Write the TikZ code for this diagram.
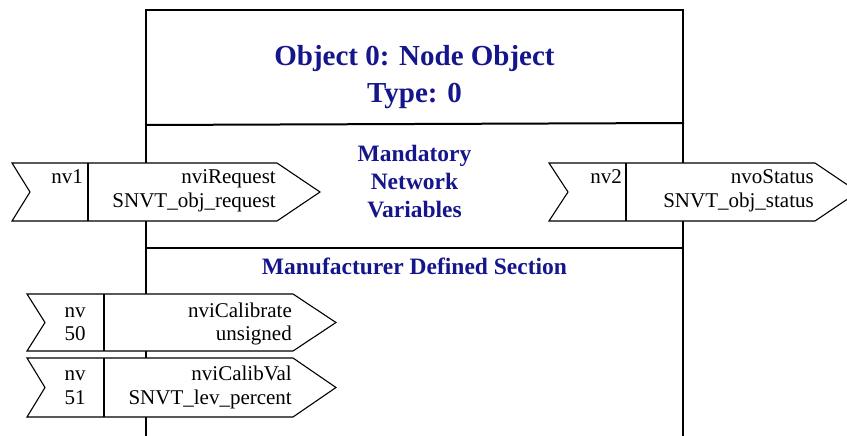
\documentclass[tikz,border=0pt]{standalone}
\usepackage{fontspec}
\setmainfont{Liberation Serif}
\definecolor{navy}{RGB}{22,22,140}
\newcommand\portshape[7]{%
  \draw[portline] (#1,#6) -- (#4,#6) -- (#5,{(#6+#7)/2}) -- (#4,#7) -- (#1,#7) -- (#2,{(#6+#7)/2}) -- cycle;
  \draw[portline] (#3,#6) -- (#3,#7);}
\begin{document}
\begin{tikzpicture}[x=1pt,y=-1pt,
  boxline/.style={line width=2pt,line cap=rect},
  portline/.style={line width=1.1pt,fill=white,line join=miter},
  lbl/.style={font=\fontsize{21}{24}\selectfont,inner sep=0pt,anchor=base east},
  lblc/.style={font=\fontsize{21}{24}\selectfont,inner sep=0pt,anchor=base},
  title/.style={font=\bfseries\fontsize{29}{37}\selectfont,text=navy,align=center,inner sep=0pt},
  sect/.style={font=\bfseries\fontsize{23.5}{28}\selectfont,text=navy,align=center,inner sep=0pt}]
\useasboundingbox (0,0) rectangle (847,436);
\clip (0,0) rectangle (847,436);
% main box
\draw[boxline] (146,445) -- (146,10) -- (683,10) -- (683,445);
\draw[boxline] (146,125) -- (683,123);
\draw[boxline] (146,248) -- (683,248);
% texts in box
\node[title] (ttl) at (414.5,77) {Object 0: Node Object\\Type: 0};
\node[sect] (mand) at (414.5,182) {Mandatory\\Network\\Variables};
\node[sect] (manu) at (414.5,266) {Manufacturer Defined Section};
% nv1
\portshape{12}{30}{88}{277}{320}{163}{221}
\node[lbl] (nv1) at (83,183) {nv1};
\node[lbl] (nv1a) at (276,183) {nviRequest};
\node[lbl] (nv1b) at (276,207) {SNVT\_obj\_request};
% nv2
\portshape{549}{568}{626}{815}{858}{163}{221}
\node[lbl] (nv2) at (622,183) {nv2};
\node[lbl] (nv2a) at (814,183) {nvoStatus};
\node[lbl] (nv2b) at (814,207) {SNVT\_obj\_status};
% nv50
\portshape{27}{45}{104}{293}{336}{294}{351}
\node[lblc] (nv50a) at (75,317) {nv};
\node[lblc] (nv50b) at (75,340) {50};
\node[lbl] (nv50c) at (292,317) {nviCalibrate};
\node[lbl] (nv50d) at (292,340) {unsigned};
% nv51
\portshape{27}{45}{104}{293}{336}{358}{417}
\node[lblc] (nv51a) at (75,380) {nv};
\node[lblc] (nv51b) at (75,404) {51};
\node[lbl] (nv51c) at (292,380) {nviCalibVal};
\node[lbl] (nv51d) at (292,404) {SNVT\_lev\_percent};
\end{tikzpicture}
\end{document}
